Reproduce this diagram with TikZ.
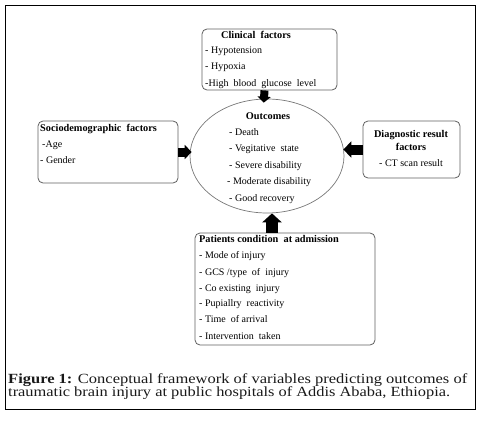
\documentclass[tikz,border=0pt]{standalone}
\usepackage{fontspec}
\setmainfont{Liberation Serif}
\usetikzlibrary{arrows.meta,shapes.geometric,calc}
\definecolor{boxgray}{RGB}{95,95,95}
\definecolor{ellgray}{RGB}{120,120,120}
\begin{document}
\begin{tikzpicture}[x=1pt,y=-1pt,
  box/.style={draw=boxgray, line width=0.8pt, rounded corners=5pt, inner sep=0pt},
  txt/.style={anchor=base west, inner sep=0pt, font=\fontsize{10}{12}\selectfont},
  ttl/.style={anchor=base, inner sep=0pt, font=\fontsize{10.3}{12}\selectfont\bfseries},
  ttlw/.style={anchor=base west, inner sep=0pt, font=\fontsize{10.3}{12}\selectfont\bfseries},
  ctr/.style={anchor=base, inner sep=0pt, font=\fontsize{10}{12}\selectfont},
  blk/.style={line width=#1, black},
  captxt/.style={anchor=base west, inner sep=0pt, font=\fontsize{14}{14}\selectfont, text=black!90},
]
\useasboundingbox (0,0) rectangle (484,420);
\draw[line width=0.9pt] (5,5) rectangle (475,409);

% boxes
\node[box, minimum width=135pt, minimum height=61pt] (clin) at (269.5,59.5) {};
\node[box, minimum width=140pt, minimum height=62pt] (socio) at (108,152) {};
\node[box, minimum width=97pt, minimum height=57pt] (diag) at (411.5,149.5) {};
\node[box, minimum width=180pt, minimum height=112pt] (pat) at (285,289) {};
\node[draw=ellgray, line width=0.7pt, ellipse, minimum width=154pt, minimum height=114pt, inner sep=0pt] (out) at (267,156) {};

% arrows
\draw[blk=8pt, -{Triangle[width=13pt,length=6pt]}, shorten >=-4pt] ([xshift=-5pt]clin.south) -- ([xshift=-3pt]out.north);
\draw[blk=9pt, -{Triangle[width=14pt,length=7pt]}, shorten >=-2pt] (socio.east) -- (socio.east -| out.west);
\draw[blk=10pt, -{Triangle[width=16pt,length=8pt]}, shorten >=-1pt] (diag.west) -- (diag.west -| out.east);
\draw[blk=12pt, -{Triangle[width=19pt,length=9pt]}] ([xshift=-13pt]pat.north) -- ([xshift=5pt]out.south);

% clinical
\node[ttl] (clint) at (256,38) {Clinical\ \ factors};
\node[txt] (clin1) at (205,54) {- Hypotension};
\node[txt] (clin2) at (205,70) {- Hypoxia};
\node[txt] (clin3) at (205,86) {-High\ \ blood\ \ glucose\ \ level};

% outcomes
\node[ttl] (outt) at (268,119) {Outcomes};
\node[txt] (out1) at (229,135.5) {- Death};
\node[txt] (out2) at (229,151.5) {- Vegitative\ \ state};
\node[txt] (out3) at (229,168) {- Severe disability};
\node[txt] (out4) at (227,184.5) {- Moderate disability};
\node[txt] (out5) at (229,201) {- Good recovery};

% socio
\node[ttlw] (sociot) at (40,131) {Sociodemographic\ \ factors};
\node[txt] (socio1) at (42,147) {-Age};
\node[txt] (socio2) at (40,163) {- Gender};

% diagnostic
\node[ttl] (diagt1) at (411,137.5) {Diagnostic result};
\node[ttl] (diagt2) at (411,150.5) {factors};
\node[ctr] (diag1) at (411,166.5) {- CT scan result};

% patients
\node[ttlw] (patt) at (199,242) {Patients condition\ \ at admission};
\node[txt] (pat1) at (199,258) {- Mode of injury};
\node[txt] (pat2) at (199,275) {- GCS /type\ \ of\ \ injury};
\node[txt] (pat3) at (199,291) {- Co existing\ \ injury};
\node[txt] (pat4) at (199,306.5) {- Pupiallry\ \ reactivity};
\node[txt] (pat5) at (199,322.5) {- Time\ \ of arrival};
\node[txt] (pat6) at (199,339) {- Intervention\ \ taken};

% caption
\node[captxt] (cap1) at (8,383) {\resizebox{459pt}{\height}{\textbf{Figure 1:} Conceptual framework of variables predicting outcomes of}};
\node[captxt] (cap2) at (8,396.5) {\resizebox{442pt}{\height}{traumatic brain injury at public hospitals of Addis Ababa, Ethiopia.}};
\end{tikzpicture}
\end{document}
